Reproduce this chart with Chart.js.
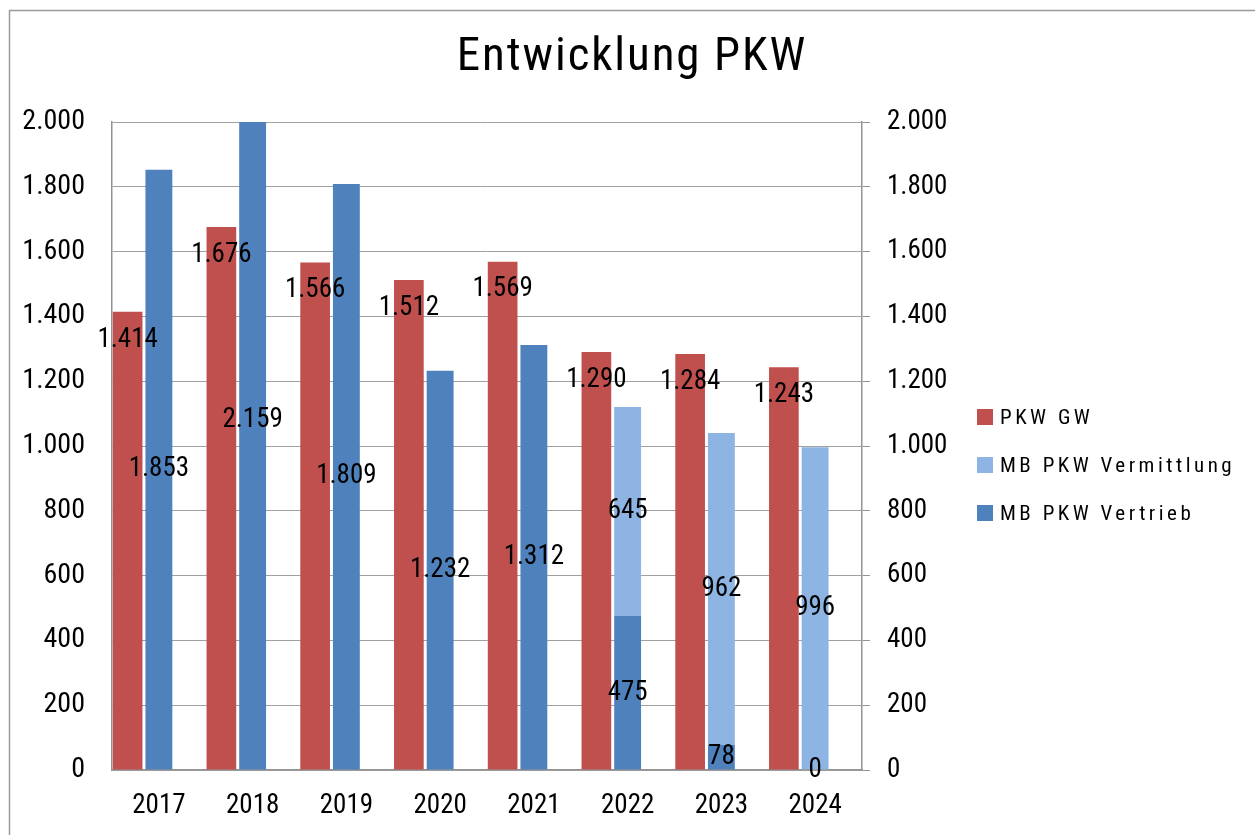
<!DOCTYPE html>
<html lang="de">
<head>
<meta charset="utf-8">
<title>Entwicklung PKW</title>
<script src="https://cdn.jsdelivr.net/npm/chart.js@4.4.1/dist/chart.umd.min.js"></script>
<style>
  html, body { margin: 0; padding: 0; background: #fff; }
  #wrap { position: relative; width: 1255px; height: 835px; }
  #legend {
    position: absolute; left: 977px; top: 393px;
    list-style: none; margin: 0; padding: 0;
    font-family: 'Roboto Condensed', 'Liberation Sans Narrow', 'DejaVu Sans Condensed', sans-serif;
    font-size: 21px; letter-spacing: 3.5px; color: #000;
  }
  #legend li { display: flex; align-items: center; height: 48px; white-space: nowrap; }
  #legend .box { width: 16px; height: 16px; margin-right: 7px; flex: none; }
</style>
</head>
<body>
<div id="wrap">
  <canvas id="pkwChart" width="1255" height="835"></canvas>
  <ul id="legend"></ul>
</div>
<script>
// ─── DATA ───
const years = ['2017', '2018', '2019', '2020', '2021', '2022', '2023', '2024'];
const pkwGW = [1414, 1676, 1566, 1512, 1569, 1290, 1284, 1243];
const mbVermittlung = [null, null, null, null, null, 645, 962, 996];
const mbVertrieb = [1853, 2159, 1809, 1232, 1312, 475, 78, 0];
const yMin = 0, yMax = 2000, yStep = 200;

// ─── STYLE ───
const NARROW = "'Roboto Condensed', 'Liberation Sans Narrow', 'DejaVu Sans Condensed', sans-serif";
const RED = '#c0504d', BLUE = '#4f81bd', LIGHT = '#8eb4e3';
const GRID = '#a0a0a0', AXIS = '#939393';

const fmt = v => String(v).replace(/\B(?=(\d{3})+(?!\d))/g, '.');

// the title in the original is letter-spaced
function track(box, px) {
  if (!box) return;
  const orig = box.draw;
  box.draw = function(...args) {
    const prev = this.ctx.letterSpacing;
    this.ctx.letterSpacing = px + 'px';
    orig.apply(this, args);
    this.ctx.letterSpacing = prev;
  };
}
const tracking = {
  id: 'tracking',
  afterInit(chart) { track(chart.titleBlock, 1.9); }
};

// outer chart frame (left + top edge visible)
const frame = {
  id: 'frame',
  beforeDraw(chart) {
    const ctx = chart.ctx;
    ctx.save();
    ctx.strokeStyle = '#9a9a9a';
    ctx.lineWidth = 1.5;
    ctx.beginPath();
    ctx.moveTo(9.5, chart.height);
    ctx.lineTo(9.5, 10.5);
    ctx.lineTo(chart.width, 10.5);
    ctx.stroke();
    ctx.restore();
  }
};

// ─── DATA LABELS ───
const valueLabels = {
  id: 'valueLabels',
  afterDatasetsDraw(chart) {
    const ctx = chart.ctx;
    ctx.save();
    ctx.font = '27px ' + NARROW;
    ctx.fillStyle = '#000';
    ctx.textAlign = 'center';
    ctx.textBaseline = 'middle';
    chart.data.datasets.forEach((ds, i) => {
      if (!ds.label) return;
      chart.getDatasetMeta(i).data.forEach((bar, j) => {
        const v = ds.data[j];
        if (v == null) return;
        const y = ds.stack === 'gw' ? bar.y + 28 : (bar.y + bar.base) / 2;
        ctx.fillText(fmt(v), bar.x, y);
      });
    });
    ctx.restore();
  }
};

// legend order differs from stacking order
const legendRank = { 0: 0, 2: 1, 1: 2 };

Chart.defaults.font.family = NARROW;
Chart.defaults.color = '#000';

const chart = new Chart(document.getElementById('pkwChart'), {
  type: 'bar',
  data: {
    labels: years,
    datasets: [
      { label: 'PKW GW', data: pkwGW, backgroundColor: RED, stack: 'gw', barPercentage: 0.95 },
      { label: 'MB PKW Vertrieb', data: mbVertrieb, backgroundColor: BLUE, stack: 'mb', barPercentage: 0.86 },
      { label: 'MB PKW Vermittlung', data: mbVermittlung, backgroundColor: LIGHT, stack: 'mb', barPercentage: 0.86 },
      // empty third slot so the blue column sits in the category centre
      { label: '', data: years.map(() => null), stack: 'pad' }
    ]
  },
  options: {
    responsive: false,
    animation: false,
    datasets: { bar: { categoryPercentage: 1, borderWidth: 0 } },
    layout: { padding: { left: 9, right: 0, top: 0, bottom: 0 } },
    plugins: {
      title: {
        display: true,
        text: 'Entwicklung PKW',
        color: '#000',
        font: { family: NARROW, size: 47, weight: 'normal' },
        padding: { top: 30, bottom: 35.6 }
      },
      legend: { display: false },
      tooltip: { enabled: false }
    },
    scales: {
      x: {
        stacked: true,
        grid: { display: false },
        border: { display: true, color: AXIS, width: 1.5 },
        ticks: { font: { size: 27 }, padding: 12, color: '#000' },
        afterFit: s => { s.height = 65; }
      },
      y: {
        stacked: true,
        min: yMin, max: yMax,
        ticks: { stepSize: yStep, font: { size: 28 }, padding: 27, color: '#000', callback: v => fmt(v) },
        grid: { color: GRID, drawTicks: false },
        border: { display: true, color: AXIS, width: 1.5 },
        afterFit: s => { s.width = 103; }
      },
      y2: {
        position: 'right',
        min: yMin, max: yMax,
        ticks: { stepSize: yStep, font: { size: 27 }, padding: 17, color: '#000', callback: v => fmt(v) },
        grid: { drawOnChartArea: false, drawTicks: true, tickLength: 8, color: AXIS },
        border: { display: true, color: AXIS, width: 1.5 },
        // axis box also holds the space the legend sits in
        afterFit: s => { s.width = 393; }
      }
    }
  },
  plugins: [tracking, frame, valueLabels]
});

// ─── LEGEND (html, from the chart's own legend items) ───
const legendEl = document.getElementById('legend');
Chart.defaults.plugins.legend.labels.generateLabels(chart)
  .filter(item => item.text !== '')
  .sort((a, b) => legendRank[a.datasetIndex] - legendRank[b.datasetIndex])
  .forEach(item => {
    const li = document.createElement('li');
    const box = document.createElement('span');
    box.className = 'box';
    box.style.background = item.fillStyle;
    li.appendChild(box);
    li.appendChild(document.createTextNode(item.text));
    legendEl.appendChild(li);
  });
</script>
</body>
</html>
